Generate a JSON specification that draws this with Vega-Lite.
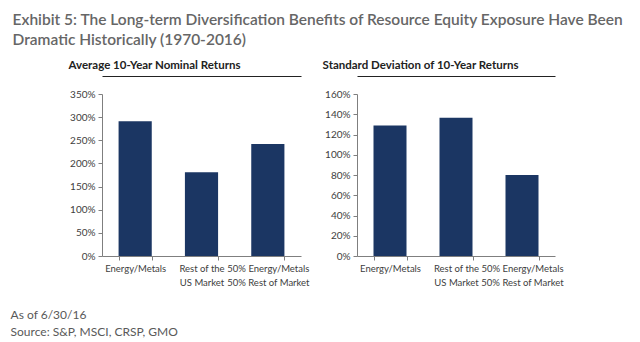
{
  "$schema": "https://vega.github.io/schema/vega-lite/v6.json",
  "background": "white",
  "padding": {"left": 10, "top": 13, "right": 10, "bottom": 6},
  "title": {
    "text": ["Exhibit 5: The Long-term Diversification Benefits of Resource Equity Exposure Have Been", "Dramatic Historically (1970-2016)"],
    "anchor": "start",
    "font": "Lato",
    "fontSize": 15.5,
    "fontWeight": 600,
    "color": "#666666",
    "lineHeight": 20,
    "offset": 11,
    "frame": "bounds",
    "dx": 2
  },
  "datasets": {
    "returns": [
      {"category": "Energy/Metals", "value": 2.91},
      {"category": "Rest of the|US Market", "value": 1.81},
      {"category": "50% Energy/Metals|50% Rest of Market", "value": 2.42}
    ],
    "stdev": [
      {"category": "Energy/Metals", "value": 1.29},
      {"category": "Rest of the|US Market", "value": 1.365},
      {"category": "50% Energy/Metals|50% Rest of Market", "value": 0.80}
    ]
  },
  "vconcat": [
    {
      "title": {
        "text": ["As of 6/30/16", "Source: S&P, MSCI, CRSP, GMO"],
        "orient": "bottom",
        "anchor": "start",
        "frame": "bounds",
        "font": "Lato",
        "fontSize": 12,
        "fontWeight": "normal",
        "color": "#595959",
        "lineHeight": 17,
        "offset": 23,
        "dx": -58
      },
      "hconcat": [
        {
          "title": {"text": "Average 10-Year Nominal Returns", "anchor": "start", "frame": "bounds", "font": "Lato", "fontSize": 11.5, "fontWeight": "bold", "color": "#222222", "offset": 5, "dx": -1},
          "width": 199,
          "height": 162,
          "data": {"name": "returns"},
          "layer": [
            {
              "mark": {"type": "bar", "color": "#1b3663"},
              "encoding": {
                "x": {"field": "category", "type": "nominal", "sort": null, "title": null,
                  "scale": {"paddingInner": 0.5, "paddingOuter": 0.25},
                  "axis": {"labelAngle": 0, "labelAlign": "center", "labelBaseline": "top", "labelOverlap": false, "tickBand": "extent", "labelExpr": "split(datum.label, '|')"}},
                "y": {"field": "value", "type": "quantitative", "title": null,
                  "scale": {"domain": [0, 3.5], "nice": false},
                  "axis": {"format": ".0%", "labelOverlap": false, "values": [0, 0.5, 1, 1.5, 2, 2.5, 3, 3.5]}}
              }
            },
            {
              "mark": {"type": "bar", "opacity": 0},
              "encoding": {
                "x": {"field": "category", "type": "nominal", "sort": null, "title": null,
                  "axis": {"orient": "top", "labels": false, "ticks": false, "domain": true, "offset": 18, "domainColor": "#222222", "domainWidth": 1.2}},
                "y": {"field": "value", "type": "quantitative", "title": null,
                  "axis": {"format": ".0%", "labelOverlap": false, "values": [0, 0.5, 1, 1.5, 2, 2.5, 3, 3.5]}}
              }
            }
          ],
          "resolve": {"axis": {"x": "independent"}}
        },
        {
          "title": {"text": "Standard Deviation of 10-Year Returns", "anchor": "start", "frame": "bounds", "font": "Lato", "fontSize": 11.5, "fontWeight": "bold", "color": "#222222", "offset": 5, "dx": -2},
          "width": 198,
          "height": 162,
          "data": {"name": "stdev"},
          "layer": [
            {
              "mark": {"type": "bar", "color": "#1b3663"},
              "encoding": {
                "x": {"field": "category", "type": "nominal", "sort": null, "title": null,
                  "scale": {"paddingInner": 0.5, "paddingOuter": 0.25},
                  "axis": {"labelAngle": 0, "labelAlign": "center", "labelBaseline": "top", "labelOverlap": false, "tickBand": "extent", "labelExpr": "split(datum.label, '|')"}},
                "y": {"field": "value", "type": "quantitative", "title": null,
                  "scale": {"domain": [0, 1.6], "nice": false},
                  "axis": {"format": ".0%", "labelOverlap": false, "values": [0, 0.2, 0.4, 0.6, 0.8, 1, 1.2, 1.4, 1.6]}}
              }
            },
            {
              "mark": {"type": "bar", "opacity": 0},
              "encoding": {
                "x": {"field": "category", "type": "nominal", "sort": null, "title": null,
                  "axis": {"orient": "top", "labels": false, "ticks": false, "domain": true, "offset": 18, "domainColor": "#222222", "domainWidth": 1.2}},
                "y": {"field": "value", "type": "quantitative", "title": null,
                  "axis": {"format": ".0%", "labelOverlap": false, "values": [0, 0.2, 0.4, 0.6, 0.8, 1, 1.2, 1.4, 1.6]}}
              }
            }
          ],
          "resolve": {"axis": {"x": "independent"}}
        }
      ],
      "spacing": 56,
      "bounds": "flush"
    }
  ],
  "config": {
    "view": {"stroke": null},
    "font": "Lato",
    "axis": {
      "grid": false,
      "labelFont": "Lato",
      "labelFontSize": 10,
      "labelColor": "#404040",
      "domainColor": "#7f7f7f",
      "tickColor": "#7f7f7f",
      "tickSize": 4,
      "labelPadding": 3
    },
    "axisX": {"labelLineHeight": 14, "labelFontSize": 9.5}
  }
}
